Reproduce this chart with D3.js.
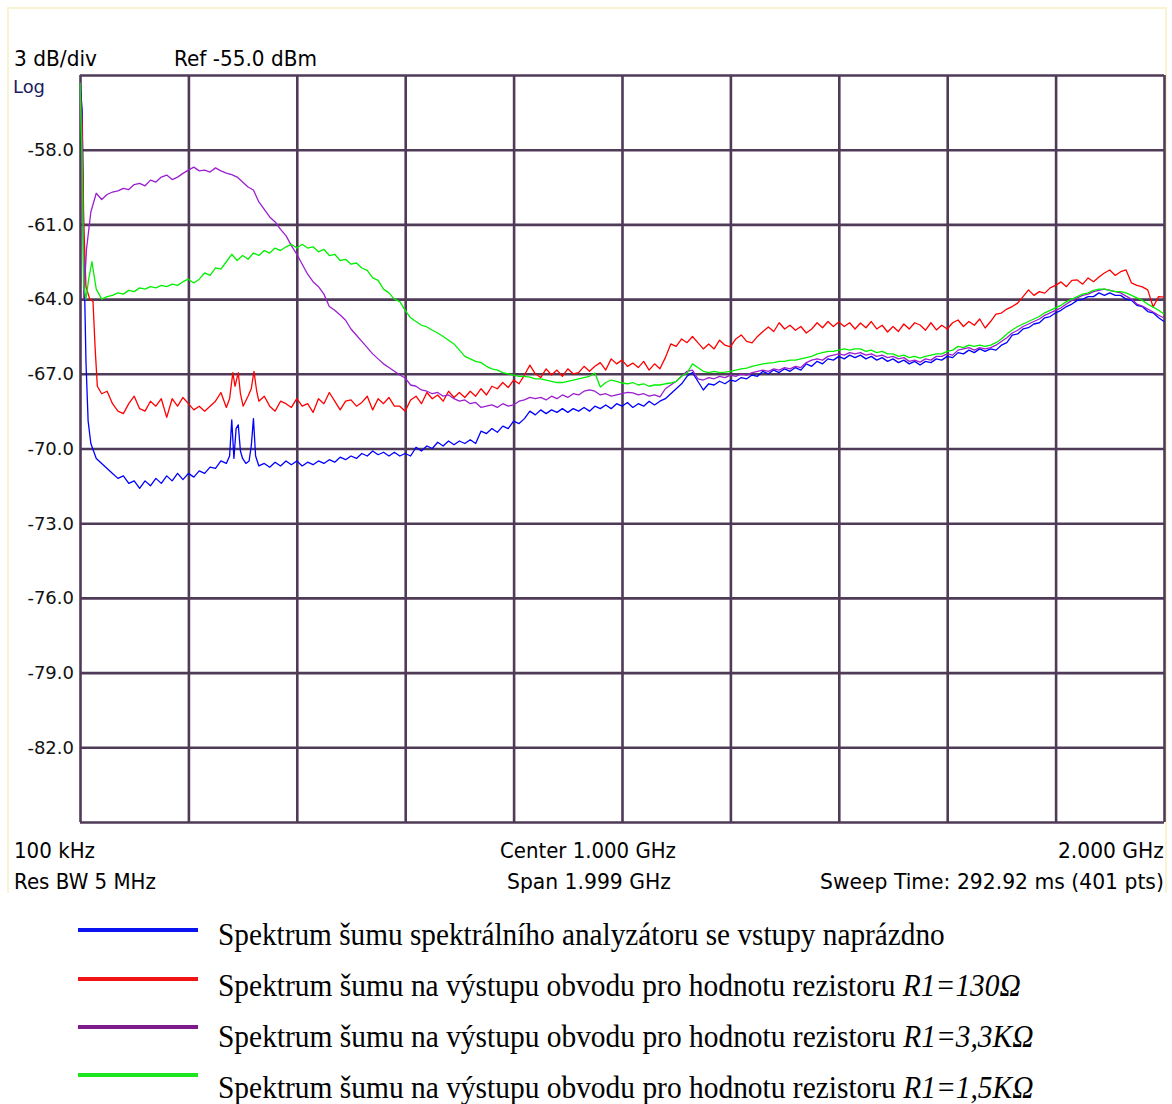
<!DOCTYPE html>
<html>
<head>
<meta charset="utf-8">
<script src="https://cdn.jsdelivr.net/npm/d3@7"></script>
<style>
  body { margin: 0; background: #fff; }
  svg { display: block; }
</style>
</head>
<body>
<svg id="chart" width="1172" height="1104"></svg>
<script>
// Data -------------------------------------
var freqTicks = [0, 200, 400, 600, 800, 1000, 1200, 1400, 1600, 1800, 2000];   // MHz
var levelTicks = [-55, -58, -61, -64, -67, -70, -73, -76, -79, -82, -85];      // dBm
var levelLabels = ['', '-58.0', '-61.0', '-64.0', '-67.0', '-70.0', '-73.0', '-76.0', '-79.0', '-82.0', ''];

var seriesNames = [
  ['Spektrum šumu spektrálního analyzátoru se vstupy naprázdno', ''],
  ['Spektrum šumu na výstupu obvodu pro hodnotu rezistoru ', 'R1=130Ω'],
  ['Spektrum šumu na výstupu obvodu pro hodnotu rezistoru ', 'R1=3,3KΩ'],
  ['Spektrum šumu na výstupu obvodu pro hodnotu rezistoru ', 'R1=1,5KΩ']
];

// [MHz, dBm]
var blueTrace = [
[0,-55.3],[4,-56.4],[7,-62.0],[11,-66.5],[15,-68.9],[20,-69.8],[30,-70.4],[40,-70.6],[50,-70.8],[60,-71.0],[70,-71.2],[80,-71.1],[90,-71.4],
[100,-71.3],[110,-71.6],[120,-71.3],[130,-71.5],[140,-71.2],[150,-71.4],[160,-71.1],[170,-71.3],[180,-71.0],[190,-71.25],
[200,-71.0],[210,-71.15],[220,-70.9],[230,-71.0],[240,-70.75],[250,-70.8],[260,-70.5],[270,-70.6],[276,-70.3],[280,-68.85],[284,-70.4],[288,-69.2],[292,-69.05],[296,-70.1],
[300,-70.4],[306,-70.6],[312,-70.5],[316,-69.9],[320,-68.8],[324,-70.3],[330,-70.7],[340,-70.6],[350,-70.75],[360,-70.55],[370,-70.7],[380,-70.5],[390,-70.65],
[400,-70.5],[410,-70.7],[420,-70.55],[430,-70.65],[440,-70.5],[450,-70.6],[460,-70.45],[470,-70.55],[480,-70.35],[490,-70.45],
[500,-70.3],[510,-70.4],[520,-70.2],[530,-70.3],[540,-70.1],[550,-70.25],[560,-70.15],[570,-70.3],[580,-70.15],[590,-70.3],
[600,-70.2],[610,-70.3],[620,-69.95],[630,-70.1],[640,-69.9],[650,-70.0],[660,-69.75],[670,-69.9],[680,-69.7],[690,-69.85],
[700,-69.7],[710,-69.8],[720,-69.65],[730,-69.8],[740,-69.3],[750,-69.4],[760,-69.2],[770,-69.35],[780,-69.1],[790,-69.2],
[800,-68.9],[810,-69.0],[820,-68.8],[830,-68.5],[840,-68.65],[850,-68.45],[860,-68.6],[870,-68.45],[880,-68.55],[890,-68.4],
[900,-68.55],[910,-68.4],[920,-68.5],[930,-68.35],[940,-68.5],[950,-68.3],[960,-68.4],[970,-68.25],[980,-68.4],[990,-68.2],
[1000,-68.3],[1010,-68.15],[1020,-68.35],[1030,-68.2],[1040,-68.3],[1050,-68.1],[1060,-68.25],[1070,-68.1],[1080,-68.0],[1090,-67.8],
[1100,-67.6],[1110,-67.4],[1120,-67.1],[1130,-66.95],[1140,-67.3],[1150,-67.65],[1160,-67.4],[1170,-67.45],[1180,-67.3],[1190,-67.4],
[1200,-67.25],[1210,-67.3],[1220,-67.15],[1230,-67.2],[1240,-67.05],[1250,-67.1],[1260,-66.9],[1270,-67.0],[1280,-66.85],[1290,-66.95],
[1300,-66.8],[1310,-66.9],[1320,-66.75],[1330,-66.85],[1340,-66.6],[1350,-66.7],[1360,-66.5],[1370,-66.6],[1380,-66.4],[1390,-66.45],
[1400,-66.3],[1410,-66.4],[1420,-66.25],[1430,-66.35],[1440,-66.25],[1450,-66.4],[1460,-66.3],[1470,-66.45],[1480,-66.35],[1490,-66.5],
[1500,-66.4],[1510,-66.55],[1520,-66.45],[1530,-66.6],[1540,-66.5],[1550,-66.65],[1560,-66.5],[1570,-66.55],[1580,-66.4],[1590,-66.45],
[1600,-66.3],[1610,-66.35],[1620,-66.15],[1630,-66.2],[1640,-66.05],[1650,-66.15],[1660,-66.0],[1670,-66.1],[1680,-66.0],[1690,-66.05],
[1700,-65.85],[1710,-65.75],[1720,-65.45],[1730,-65.4],[1740,-65.2],[1750,-65.15],[1760,-65.0],[1770,-64.95],[1780,-64.75],[1790,-64.7],
[1800,-64.55],[1810,-64.45],[1820,-64.3],[1830,-64.2],[1840,-64.05],[1850,-64.0],[1860,-63.9],[1870,-63.9],[1880,-63.75],[1890,-63.85],
[1900,-63.75],[1910,-63.85],[1920,-63.85],[1930,-64.0],[1940,-64.05],[1950,-64.25],[1960,-64.3],[1970,-64.5],[1980,-64.55],[1990,-64.75],[2000,-64.9]
];

var redTrace = [
[0,-55.3],[4,-57.0],[7,-61.0],[11,-63.5],[18,-64.0],[24,-64.1],[28,-66.0],[32,-67.5],[40,-67.8],[50,-67.7],[60,-68.2],[70,-68.5],[80,-68.6],[90,-68.2],
[100,-67.9],[110,-68.4],[120,-68.5],[130,-68.1],[140,-68.3],[150,-68.0],[160,-68.75],[170,-68.0],[180,-68.3],[190,-67.95],
[200,-68.2],[210,-68.45],[220,-68.3],[230,-68.5],[240,-68.3],[250,-68.1],[260,-67.75],[270,-68.35],[276,-68.0],[282,-66.95],[286,-67.5],[292,-66.95],[296,-67.8],
[301,-68.3],[310,-67.9],[316,-67.6],[321,-66.9],[326,-67.7],[330,-68.1],[340,-67.9],[350,-68.3],[360,-68.5],[370,-68.1],[380,-68.2],[390,-68.35],
[400,-68.0],[410,-68.3],[420,-68.2],[430,-68.55],[440,-68.0],[450,-68.2],[460,-67.75],[470,-68.1],[480,-68.45],[490,-68.1],
[500,-68.05],[510,-68.3],[520,-68.15],[530,-67.9],[540,-68.45],[550,-68.0],[560,-68.2],[570,-67.95],[580,-68.3],[590,-68.3],
[600,-68.5],[610,-68.05],[620,-67.9],[630,-68.2],[640,-67.75],[650,-68.0],[660,-67.85],[670,-68.1],[680,-67.7],[690,-67.95],
[700,-67.75],[710,-67.95],[720,-67.7],[730,-67.9],[740,-67.6],[750,-67.85],[760,-67.5],[770,-67.6],[780,-67.35],[790,-67.55],
[800,-67.25],[810,-67.4],[820,-67.05],[830,-66.65],[840,-67.0],[850,-67.15],[860,-66.8],[870,-67.05],[880,-66.85],[890,-67.1],
[900,-66.8],[910,-67.0],[920,-66.95],[930,-66.7],[940,-66.9],[950,-66.7],[960,-66.55],[970,-66.85],[980,-66.4],[990,-66.6],
[1000,-66.45],[1010,-66.7],[1020,-66.57],[1030,-66.75],[1040,-66.5],[1050,-66.85],[1060,-66.6],[1070,-66.8],[1080,-66.35],[1090,-65.8],
[1100,-65.9],[1110,-65.6],[1120,-65.75],[1130,-65.5],[1140,-65.75],[1150,-66.0],[1160,-65.8],[1170,-66.0],[1180,-65.65],[1190,-65.85],
[1200,-65.92],[1210,-65.6],[1220,-65.44],[1230,-65.7],[1240,-65.76],[1250,-65.5],[1260,-65.3],[1270,-65.12],[1280,-65.3],[1290,-64.95],
[1300,-65.2],[1310,-65.05],[1320,-65.25],[1330,-65.1],[1340,-65.36],[1350,-65.2],[1360,-64.95],[1370,-65.15],[1380,-64.9],[1390,-65.1],
[1400,-64.92],[1410,-65.1],[1420,-64.95],[1430,-65.2],[1440,-64.96],[1450,-65.15],[1460,-64.9],[1470,-65.2],[1480,-65.05],[1490,-65.32],
[1500,-65.1],[1510,-65.3],[1520,-65.0],[1530,-65.2],[1540,-64.95],[1550,-65.04],[1560,-65.25],[1570,-64.95],[1580,-65.24],[1590,-65.05],
[1600,-65.2],[1610,-64.95],[1620,-64.84],[1630,-65.1],[1640,-64.9],[1650,-65.05],[1660,-64.8],[1670,-65.16],[1680,-64.9],[1690,-64.6],
[1700,-64.56],[1710,-64.4],[1720,-64.3],[1730,-64.16],[1740,-63.9],[1750,-63.63],[1760,-63.85],[1770,-63.7],[1780,-63.76],[1790,-63.55],
[1800,-63.45],[1810,-63.31],[1820,-63.5],[1830,-63.25],[1840,-63.23],[1850,-63.4],[1860,-63.15],[1870,-63.3],[1880,-63.11],[1890,-62.95],
[1900,-62.83],[1910,-63.05],[1920,-62.9],[1930,-62.83],[1940,-63.35],[1950,-63.45],[1960,-63.51],[1970,-63.63],[1980,-64.32],[1990,-63.9],[2000,-63.92]
];

var purpleTrace = [
[0,-55.3],[4,-58.0],[7,-64.0],[12,-62.0],[20,-60.5],[30,-59.75],[40,-60.0],[50,-59.8],[60,-59.7],[70,-59.65],[80,-59.55],[90,-59.6],
[100,-59.4],[110,-59.35],[120,-59.45],[130,-59.22],[140,-59.3],[150,-59.1],[160,-59.02],[170,-59.2],[180,-59.1],[190,-58.95],
[200,-58.82],[210,-58.7],[220,-58.85],[230,-58.82],[240,-58.9],[250,-58.73],[260,-58.85],[270,-58.94],[280,-59.0],[290,-59.1],
[300,-59.3],[310,-59.5],[320,-59.62],[330,-60.1],[340,-60.4],[350,-60.7],[360,-60.9],[370,-61.2],[380,-61.45],[390,-61.85],
[400,-62.2],[410,-62.6],[420,-63.0],[430,-63.3],[440,-63.5],[450,-63.8],[460,-64.3],[470,-64.45],[480,-64.64],[490,-64.85],
[500,-65.2],[510,-65.45],[520,-65.7],[530,-65.95],[540,-66.2],[550,-66.4],[560,-66.6],[570,-66.75],[580,-66.9],[590,-67.05],
[600,-67.17],[610,-67.45],[620,-67.5],[630,-67.65],[640,-67.7],[650,-67.8],[660,-67.75],[670,-67.9],[680,-67.85],[690,-68.0],
[700,-68.1],[710,-68.05],[720,-68.2],[730,-68.15],[740,-68.35],[750,-68.3],[760,-68.25],[770,-68.35],[780,-68.2],[790,-68.3],
[800,-68.25],[810,-68.1],[820,-68.05],[830,-67.95],[840,-68.0],[850,-67.95],[860,-68.05],[870,-67.9],[880,-68.0],[890,-67.85],
[900,-67.95],[910,-67.8],[920,-67.85],[930,-67.7],[940,-67.65],[950,-67.7],[960,-67.85],[970,-67.8],[980,-67.9],[990,-67.85],
[1000,-67.8],[1010,-67.75],[1020,-67.77],[1030,-67.85],[1040,-67.8],[1050,-67.9],[1060,-67.85],[1070,-67.93],[1080,-67.6],[1090,-67.45],
[1100,-67.3],[1110,-67.1],[1120,-66.9],[1130,-66.85],[1140,-67.2],[1150,-67.25],[1160,-67.15],[1170,-67.2],[1180,-67.1],[1190,-67.15],
[1200,-67.05],[1210,-67.1],[1220,-67.0],[1230,-67.05],[1240,-66.95],[1250,-66.9],[1260,-66.85],[1270,-66.9],[1280,-66.8],[1290,-66.85],
[1300,-66.75],[1310,-66.8],[1320,-66.7],[1330,-66.75],[1340,-66.55],[1350,-66.45],[1360,-66.4],[1370,-66.45],[1380,-66.3],[1390,-66.25],
[1400,-66.2],[1410,-66.25],[1420,-66.15],[1430,-66.2],[1440,-66.15],[1450,-66.25],[1460,-66.2],[1470,-66.3],[1480,-66.25],[1490,-66.35],
[1500,-66.3],[1510,-66.4],[1520,-66.35],[1530,-66.5],[1540,-66.45],[1550,-66.53],[1560,-66.4],[1570,-66.45],[1580,-66.3],[1590,-66.3],
[1600,-66.2],[1610,-66.25],[1620,-66.05],[1630,-66.0],[1640,-65.95],[1650,-66.05],[1660,-65.95],[1670,-66.0],[1680,-65.95],[1690,-65.85],
[1700,-65.7],[1710,-65.55],[1720,-65.36],[1730,-65.25],[1740,-65.1],[1750,-65.0],[1760,-64.9],[1770,-64.8],[1780,-64.65],[1790,-64.55],
[1800,-64.45],[1810,-64.35],[1820,-64.2],[1830,-64.05],[1840,-63.95],[1850,-63.85],[1860,-63.8],[1870,-63.7],[1880,-63.65],[1890,-63.6],
[1900,-63.65],[1910,-63.7],[1920,-63.75],[1930,-63.88],[1940,-64.0],[1950,-64.2],[1960,-64.28],[1970,-64.4],[1980,-64.52],[1990,-64.65],[2000,-64.76]
];

var greenTrace = [
[0,-55.3],[4,-58.5],[7,-63.5],[11,-64.0],[16,-63.2],[22,-62.5],[30,-63.6],[40,-64.0],[50,-63.9],[60,-63.85],[70,-63.75],[80,-63.8],[90,-63.65],
[100,-63.7],[110,-63.55],[120,-63.6],[130,-63.5],[140,-63.55],[150,-63.45],[160,-63.5],[170,-63.4],[180,-63.45],[190,-63.3],
[200,-63.2],[210,-63.35],[220,-63.2],[230,-62.95],[240,-63.05],[250,-62.75],[260,-62.8],[270,-62.5],[280,-62.2],[290,-62.45],
[300,-62.25],[310,-62.4],[320,-62.15],[330,-62.25],[340,-62.05],[350,-62.15],[360,-61.95],[370,-62.05],[380,-61.9],[390,-61.8],
[400,-61.95],[410,-61.8],[420,-61.95],[430,-61.9],[440,-62.1],[450,-62.0],[460,-62.25],[470,-62.2],[480,-62.45],[490,-62.4],
[500,-62.6],[510,-62.55],[520,-62.75],[530,-62.85],[540,-63.15],[550,-63.25],[560,-63.6],[570,-63.75],[580,-64.0],[590,-64.1],
[600,-64.45],[610,-64.75],[620,-64.9],[630,-65.05],[640,-65.12],[650,-65.25],[660,-65.36],[670,-65.5],[680,-65.65],[690,-65.8],
[700,-66.05],[710,-66.3],[720,-66.4],[730,-66.5],[740,-66.55],[750,-66.7],[760,-66.8],[770,-66.85],[780,-66.95],[790,-67.0],
[800,-67.05],[810,-67.1],[820,-67.1],[830,-67.13],[840,-67.2],[850,-67.2],[860,-67.25],[870,-67.3],[880,-67.35],[890,-67.35],
[900,-67.3],[910,-67.25],[920,-67.2],[930,-67.15],[940,-67.1],[950,-66.97],[960,-67.53],[970,-67.35],[980,-67.25],[990,-67.3],
[1000,-67.37],[1010,-67.4],[1020,-67.35],[1030,-67.45],[1040,-67.4],[1050,-67.5],[1060,-67.45],[1070,-67.45],[1080,-67.4],[1090,-67.37],
[1100,-67.3],[1110,-67.1],[1120,-66.97],[1130,-66.6],[1140,-66.75],[1150,-66.9],[1160,-66.95],[1170,-66.9],[1180,-66.95],[1190,-66.93],
[1200,-66.9],[1210,-66.85],[1220,-66.8],[1230,-66.77],[1240,-66.7],[1250,-66.65],[1260,-66.6],[1270,-66.57],[1280,-66.55],[1290,-66.5],
[1300,-66.5],[1310,-66.45],[1320,-66.45],[1330,-66.4],[1340,-66.35],[1350,-66.3],[1360,-66.2],[1370,-66.15],[1380,-66.1],[1390,-66.1],
[1400,-66.05],[1410,-66.0],[1420,-66.05],[1430,-66.0],[1440,-66.0],[1450,-66.1],[1460,-66.05],[1470,-66.15],[1480,-66.1],[1490,-66.2],
[1500,-66.2],[1510,-66.3],[1520,-66.25],[1530,-66.35],[1540,-66.3],[1550,-66.37],[1560,-66.3],[1570,-66.25],[1580,-66.2],[1590,-66.2],
[1600,-66.1],[1610,-66.05],[1620,-65.9],[1630,-65.95],[1640,-65.85],[1650,-65.9],[1660,-65.85],[1670,-65.9],[1680,-65.85],[1690,-65.75],
[1700,-65.6],[1710,-65.4],[1720,-65.24],[1730,-65.1],[1740,-65.0],[1750,-64.9],[1760,-64.8],[1770,-64.7],[1780,-64.55],[1790,-64.45],
[1800,-64.35],[1810,-64.25],[1820,-64.1],[1830,-64.0],[1840,-63.9],[1850,-63.8],[1860,-63.75],[1870,-63.65],[1880,-63.6],[1890,-63.6],
[1900,-63.65],[1910,-63.7],[1920,-63.7],[1930,-63.75],[1940,-63.85],[1950,-63.95],[1960,-64.05],[1970,-64.2],[1980,-64.32],[1990,-64.45],[2000,-64.6]
];

var traceColors = ['#0000ff', '#ff0000', '#9b1fd0', '#00f000'];
var legendColors = ['#0a14f0', '#f01414', '#7e1a8c', '#1ee61e'];

// Layout -------------------------------------
var svg = d3.select('#chart');
var plotLeft = 80, plotRight = 1164, plotTop = 75, plotBottom = 822;
var gridColor = '#4f3a57';
var uiFont = '"DejaVu Sans", Verdana, sans-serif';

var x = d3.scaleLinear().domain([0, 2000]).range([plotLeft, plotRight]);
var y = d3.scaleLinear().domain([-55, -85]).range([plotTop, plotBottom]);

// faint frame round the screenshot
svg.append('path')
  .attr('d', 'M8,893 L8,8 L1166,8 L1166,893')
  .attr('fill', 'none')
  .attr('stroke', '#f7f4cf')
  .attr('stroke-width', 2);

// Grid -------------------------------------
var xGrid = svg.append('g')
  .attr('transform', 'translate(0,' + plotBottom + ')')
  .call(d3.axisBottom(x).tickValues(freqTicks).tickSize(-(plotBottom - plotTop)).tickFormat(''));
var yGrid = svg.append('g')
  .attr('transform', 'translate(' + plotLeft + ',0)')
  .call(d3.axisLeft(y).tickValues(levelTicks).tickSize(-(plotRight - plotLeft)).tickFormat(''));
[xGrid, yGrid].forEach(function(g) {
  g.select('.domain').remove();
  g.selectAll('line').attr('stroke', gridColor).attr('stroke-width', 2.6);
});

// y labels
svg.append('g').selectAll('text')
  .data(levelTicks)
  .enter()
  .append('text')
  .attr('x', 74)
  .attr('y', function(d) { return y(d); })
  .attr('dy', '0.35em')
  .attr('text-anchor', 'end')
  .style('font-family', uiFont)
  .style('font-size', '18px')
  .style('fill', '#111')
  .text(function(d, i) { return levelLabels[i]; });

// Traces -------------------------------------
var line = d3.line()
  .x(function(d) { return x(d[0]); })
  .y(function(d) { return y(d[1]); });

[blueTrace, redTrace, purpleTrace, greenTrace].forEach(function(trace, i) {
  svg.append('path')
    .datum(trace)
    .attr('d', line)
    .attr('fill', 'none')
    .attr('stroke', traceColors[i])
    .attr('stroke-width', 1.3)
    .attr('stroke-linejoin', 'round');
});

// Texts -------------------------------------
// draws text with its left edge at left and squeezes it to width
function fitText(parts, left, baseline, width, family, size, color) {
  var g = svg.append('g');
  var t = g.append('text')
    .style('font-family', family)
    .style('font-size', size + 'px')
    .style('fill', color);
  parts.forEach(function(p) {
    if (p[0] === '') return;
    t.append('tspan').style('font-style', p[1] ? 'italic' : 'normal').text(p[0]);
  });
  var natural = t.node().getComputedTextLength();
  g.attr('transform', 'translate(' + left + ',' + baseline + ') scale(' + (width / natural) + ',1)');
}

fitText([['3 dB/div']], 14, 66, 83, uiFont, 22, '#000');
fitText([['Ref -55.0 dBm']], 174, 66, 143, uiFont, 22, '#000');
fitText([['Log']], 13, 93, 32, uiFont, 18, '#1c1c5c');

fitText([['100 kHz']], 14, 858, 81, uiFont, 22, '#000');
fitText([['Res BW 5 MHz']], 14, 889, 142, uiFont, 22, '#000');
fitText([['Center 1.000 GHz']], 500, 858, 176, uiFont, 22, '#000');
fitText([['Span 1.999 GHz']], 507, 889, 164, uiFont, 22, '#000');
fitText([['2.000 GHz']], 1058, 858, 106, uiFont, 22, '#000');
fitText([['Sweep Time: 292.92 ms (401 pts)']], 820, 889, 344, uiFont, 22, '#000');

// Legend -------------------------------------
var legendLineY = [930, 979, 1027, 1075];
var legendTextY = [945, 996, 1047, 1098];
var legendWidths = [727, 803, 816, 816];

seriesNames.forEach(function(name, i) {
  svg.append('line')
    .attr('x1', 78).attr('x2', 198)
    .attr('y1', legendLineY[i]).attr('y2', legendLineY[i])
    .attr('stroke', legendColors[i])
    .attr('stroke-width', 4);
  fitText([[name[0], false], [name[1], true]], 218, legendTextY[i], legendWidths[i],
    '"Liberation Serif", "Times New Roman", serif', 31, '#000');
});
</script>
</body>
</html>
